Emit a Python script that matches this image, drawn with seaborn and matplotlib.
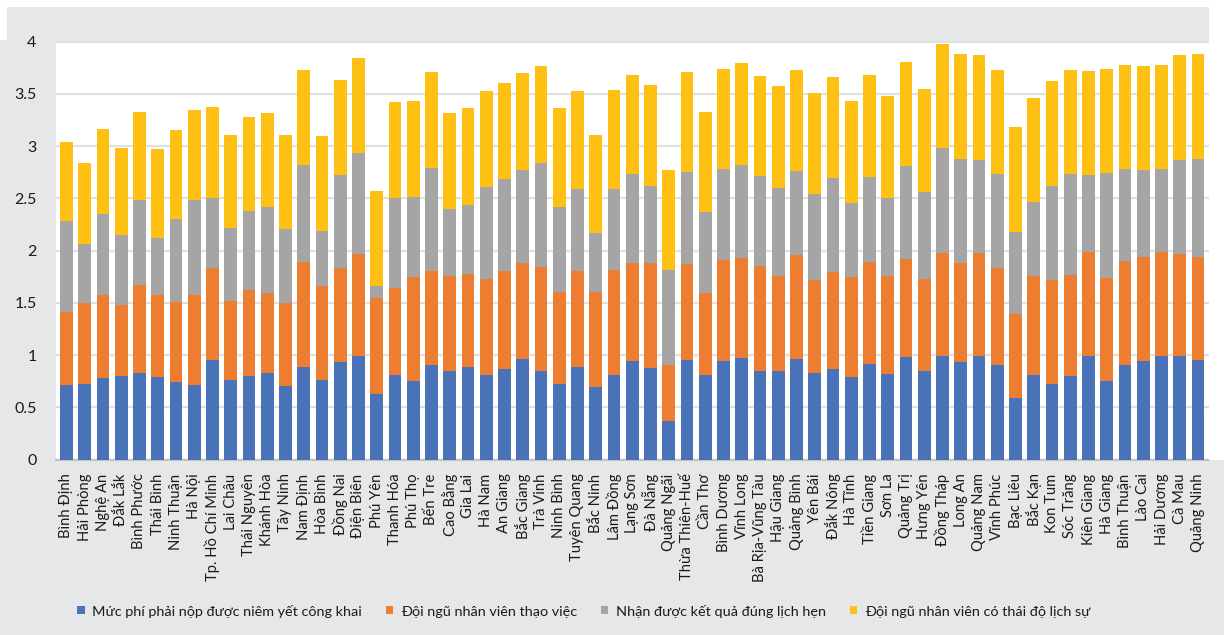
import matplotlib
matplotlib.use("Agg")
import matplotlib.pyplot as plt
from matplotlib.patches import Patch, Rectangle
import numpy as np
import pandas as pd
import seaborn as sns

# Provinces, ordered as shown on the x axis
provinces = [
    "Bình Định", "Hải Phòng", "Nghệ An", "Đắk Lắk", "Bình Phước", "Thái Bình",
    "Ninh Thuận", "Hà Nội", "Tp. Hồ Chí Minh", "Lai Châu", "Thái Nguyên",
    "Khánh Hòa", "Tây Ninh", "Nam Định", "Hòa Bình", "Đồng Nai", "Điện Biên",
    "Phú Yên", "Thanh Hóa", "Phú Thọ", "Bến Tre", "Cao Bằng", "Gia Lai",
    "Hà Nam", "An Giang", "Bắc Giang", "Trà Vinh", "Ninh Bình", "Tuyên Quang",
    "Bắc Ninh", "Lâm Đồng", "Lạng Sơn", "Đà Nẵng", "Quảng Ngãi",
    "Thừa Thiên-Huế", "Cần Thơ", "Bình Dương", "Vĩnh Long", "Bà Rịa-Vũng Tàu",
    "Hậu Giang", "Quảng Bình", "Yên Bái", "Đắk Nông", "Hà Tĩnh", "Tiền Giang",
    "Sơn La", "Quảng Trị", "Hưng Yên", "Đồng Tháp", "Long An", "Quảng Nam",
    "Vĩnh Phúc", "Bạc Liêu", "Bắc Kạn", "Kon Tum", "Sóc Trăng", "Kiên Giang",
    "Hà Giang", "Bình Thuận", "Lào Cai", "Hải Dương", "Cà Mau", "Quảng Ninh",
]

# Mức phí phải nộp được niêm yết công khai
fee_posted = [
    0.71, 0.72, 0.78, 0.80, 0.83, 0.79, 0.74, 0.71, 0.95, 0.76, 0.80, 0.83, 0.70,
    0.89, 0.76, 0.93, 0.99, 0.63, 0.81, 0.75, 0.90, 0.85, 0.89, 0.81, 0.87, 0.96,
    0.85, 0.72, 0.89, 0.69, 0.81, 0.94, 0.88, 0.37, 0.95, 0.81, 0.94, 0.97, 0.85,
    0.85, 0.96, 0.83, 0.87, 0.79, 0.91, 0.82, 0.98, 0.85, 0.99, 0.93, 0.99, 0.90,
    0.59, 0.81, 0.72, 0.80, 0.99, 0.75, 0.90, 0.94, 0.99, 0.99, 0.95,
]
# Đội ngũ nhân viên thạo việc
staff_skilled = [
    0.70, 0.78, 0.79, 0.68, 0.84, 0.78, 0.77, 0.86, 0.88, 0.76, 0.82, 0.76, 0.80,
    1.00, 0.90, 0.90, 0.98, 0.92, 0.83, 1.00, 0.90, 0.91, 0.89, 0.92, 0.93, 0.92,
    0.99, 0.88, 0.91, 0.91, 1.00, 0.94, 1.00, 0.53, 0.92, 0.78, 0.97, 0.96, 1.00,
    0.91, 1.00, 0.89, 0.92, 0.96, 0.98, 0.94, 0.94, 0.88, 0.99, 0.95, 0.99, 0.93,
    0.80, 0.95, 1.00, 0.97, 1.00, 0.99, 1.00, 1.00, 1.00, 0.98, 0.99,
]
# Nhận được kết quả đúng lịch hẹn
on_schedule = [
    0.87, 0.56, 0.78, 0.67, 0.81, 0.55, 0.79, 0.91, 0.67, 0.70, 0.76, 0.83, 0.71,
    0.93, 0.53, 0.89, 0.96, 0.11, 0.86, 0.76, 0.99, 0.64, 0.66, 0.88, 0.88, 0.89,
    1.00, 0.82, 0.79, 0.57, 0.78, 0.85, 0.74, 0.91, 0.88, 0.78, 0.87, 0.89, 0.86,
    0.84, 0.80, 0.82, 0.90, 0.70, 0.81, 0.74, 0.89, 0.83, 1.00, 1.00, 0.89, 0.90,
    0.79, 0.70, 0.90, 0.96, 0.73, 1.00, 0.88, 0.83, 0.79, 0.90, 0.94,
]
# Đội ngũ nhân viên có thái độ lịch sự
staff_polite = [
    0.76, 0.78, 0.81, 0.83, 0.85, 0.85, 0.85, 0.86, 0.87, 0.89, 0.90, 0.90, 0.90,
    0.91, 0.91, 0.91, 0.91, 0.91, 0.92, 0.92, 0.92, 0.92, 0.92, 0.92, 0.92, 0.93,
    0.93, 0.94, 0.94, 0.94, 0.95, 0.95, 0.96, 0.96, 0.96, 0.96, 0.96, 0.97, 0.96,
    0.97, 0.97, 0.97, 0.97, 0.98, 0.98, 0.98, 0.99, 0.99, 1.00, 1.00, 1.00, 1.00,
    1.00, 1.00, 1.00, 1.00, 1.00, 1.00, 1.00, 1.00, 1.00, 1.00, 1.00,
]

series_names = [
    "Mức phí phải nộp được niêm yết công khai",
    "Đội ngũ nhân viên thạo việc",
    "Nhận được kết quả đúng lịch hẹn",
    "Đội ngũ nhân viên có thái độ lịch sự",
]
series_values = [fee_posted, staff_skilled, on_schedule, staff_polite]
colors = ["#4a72b8", "#ed7d31", "#a5a5a5", "#fdc013"]
y_ticks = [0, 0.5, 1, 1.5, 2, 2.5, 3, 3.5, 4]
y_tick_labels = ["0", "0.5", "1", "1.5", "2", "2.5", "3", "3.5", "4"]

sns.set_theme(style="white")
plt.rcParams["font.family"] = ["Lato", "DejaVu Sans"]

W, H = 1224, 635
panel = "#e6e7e9"
fig = plt.figure(figsize=(W / 100, H / 100), dpi=100, facecolor=panel)
# white page margins around the grey panel
fig.patches.append(Rectangle((0, 1 - 7 / H), 1, 7 / H, transform=fig.transFigure,
                             facecolor="white", edgecolor="none", zorder=0))
fig.patches.append(Rectangle((1209 / W, 1 - 460 / H), 15 / W, 460 / H,
                             transform=fig.transFigure, facecolor="white",
                             edgecolor="none", zorder=0))
fig.patches.append(Rectangle((0, 1 - 40 / H), 7 / W, 40 / H,
                             transform=fig.transFigure, facecolor="white",
                             edgecolor="none", zorder=0))

ax = fig.add_axes([56 / W, 1 - 459.5 / H, (1208.5 - 56) / W, (459.5 - 41) / H])
ax.set_facecolor("white")

# Stacked bars: draw running totals from the top layer down
df = pd.DataFrame({"province": provinces})
cum = np.cumsum(np.array(series_values, dtype=float), axis=0)
for k in range(len(series_values) - 1, -1, -1):
    df["total"] = cum[k]
    sns.barplot(data=df, x="province", y="total", order=provinces,
                color=colors[k], saturation=1, width=0.71, errorbar=None,
                linewidth=0, ax=ax, zorder=3)

ax.set_xlim(-0.575, len(provinces) - 1 + 0.575)
ax.set_ylim(0, 4.005)
ax.set_yticks(y_ticks)
ax.set_yticklabels(y_tick_labels)
ax.set_xlabel("")
ax.set_ylabel("")
ax.grid(axis="y", color="#e1e1e1", linewidth=1.6, zorder=0)
ax.grid(axis="x", visible=False)
ax.set_axisbelow(True)
for side in ["top", "right", "left"]:
    ax.spines[side].set_visible(False)
ax.spines["bottom"].set_color("#c4c4c4")
ax.spines["bottom"].set_linewidth(1.6)
ax.tick_params(axis="y", length=0, pad=14, labelsize=11.5, labelcolor="#1a1a1a")
ax.tick_params(axis="x", length=0, pad=10, labelsize=10.6, labelcolor="#1a1a1a")
plt.setp(ax.get_xticklabels(), rotation=90, ha="center", va="top")

handles = [Patch(facecolor=c, edgecolor="none", label=n)
           for c, n in zip(colors, series_names)]
fig.legend(handles=handles, loc="center", ncol=4, frameon=False,
           bbox_to_anchor=(584 / W, 1 - 611 / H), fontsize=10.4,
           handlelength=0.5, handleheight=0.5, handletextpad=0.55,
           columnspacing=1.65, labelcolor="#1a1a1a")

fig.savefig("out.png", dpi=100, facecolor=fig.get_facecolor())
